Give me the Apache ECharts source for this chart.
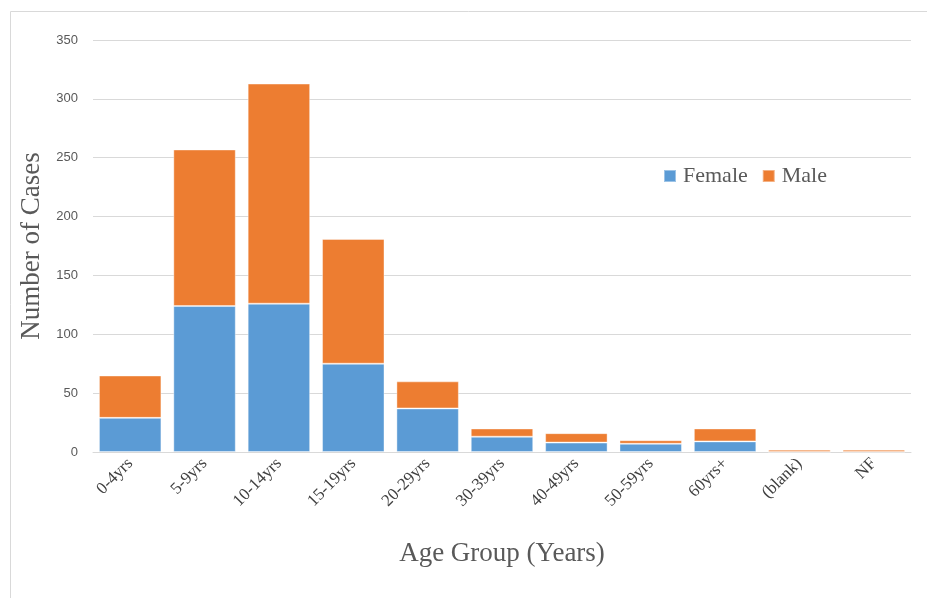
<!DOCTYPE html>
<html>
<head>
<meta charset="utf-8">
<script src="https://cdn.jsdelivr.net/npm/echarts@6/dist/echarts.min.js"></script>
<style>html,body{margin:0;padding:0;background:#fff}#c{width:927px;height:598px}</style>
</head>
<body>
<div id="c"></div>
<script>
const categories = ['0-4yrs','5-9yrs','10-14yrs','15-19yrs','20-29yrs','30-39yrs','40-49yrs','50-59yrs','60yrs+','(blank)','NF'];
const female = [29, 124, 126, 75, 37, 13, 8, 7, 9, 0, 0];
const male = [36, 133, 187, 106, 23, 7, 8, 3, 11, 2, 2];
const yTicks = {min: 0, max: 350, interval: 50};

const chart = echarts.init(document.getElementById('c'), null, {renderer: 'canvas'});
const serif = 'Liberation Serif, Times New Roman, serif';
chart.setOption({
  animation: false,
  graphic: [
    {type: 'line', shape: {x1: 10.5, y1: 11.5, x2: 927, y2: 11.5}, style: {stroke: '#d9d9d9', lineWidth: 1}, silent: true},
    {type: 'line', shape: {x1: 10.5, y1: 11.5, x2: 10.5, y2: 598}, style: {stroke: '#d9d9d9', lineWidth: 1}, silent: true}
  ],
  grid: {left: 93, right: 16, top: 40, bottom: 146},
  legend: {
    data: ['Female', 'Male'],
    left: 658, top: 160,
    itemWidth: 12, itemHeight: 12, itemGap: 14,
    icon: 'rect',
    textStyle: {fontFamily: serif, fontSize: 22, color: '#595959', padding: [0, 0, 0, 2]}
  },
  xAxis: {
    type: 'category', data: categories,
    name: 'Age Group (Years)', nameLocation: 'middle', nameGap: 88,
    nameTextStyle: {fontFamily: serif, fontSize: 27, color: '#595959'},
    axisLine: {lineStyle: {color: '#d9d9d9'}},
    axisTick: {show: false},
    axisLabel: {rotate: 45, fontFamily: serif, fontSize: 17, color: '#404040', margin: 9, interval: 0}
  },
  yAxis: {
    type: 'value', min: yTicks.min, max: yTicks.max, interval: yTicks.interval,
    name: 'Number of Cases', nameLocation: 'middle', nameGap: 47,
    nameTextStyle: {fontFamily: serif, fontSize: 27, color: '#595959'},
    axisLine: {show: false}, axisTick: {show: false},
    axisLabel: {fontFamily: 'Liberation Sans Narrow, Liberation Sans, sans-serif', fontSize: 13, color: '#595959', margin: 15},
    splitLine: {lineStyle: {color: '#d9d9d9', width: 1}}
  },
  series: [
    {name: 'Female', type: 'bar', stack: 'a', data: female, barCategoryGap: '16%',
     itemStyle: {color: '#5B9BD5', borderColor: 'rgba(255,255,255,0.4)', borderWidth: 1}},
    {name: 'Male', type: 'bar', stack: 'a', data: male, barCategoryGap: '16%',
     itemStyle: {color: '#ED7D31', borderColor: 'rgba(255,255,255,0.4)', borderWidth: 1}}
  ]
});
</script>
</body>
</html>
